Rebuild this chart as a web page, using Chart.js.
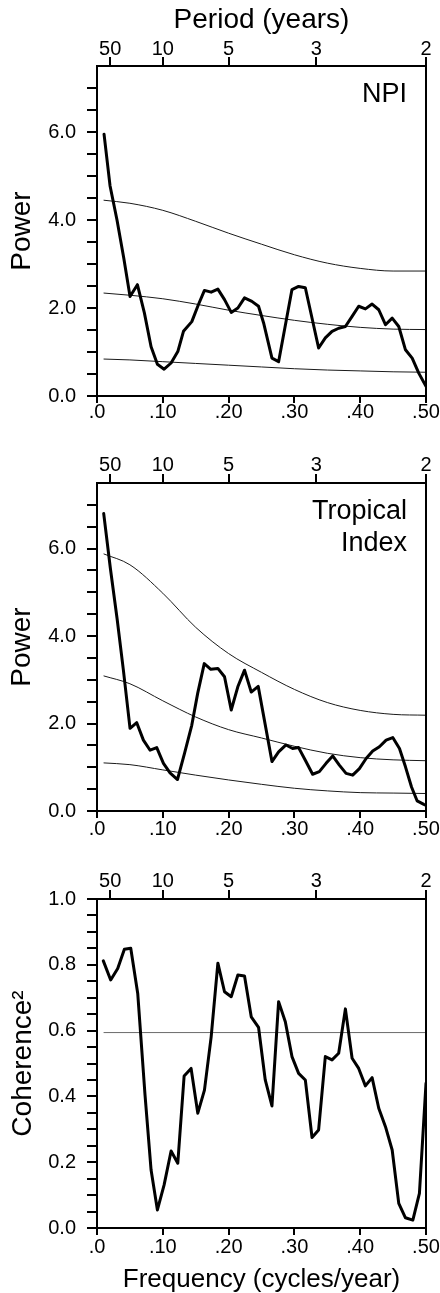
<!DOCTYPE html>
<html><head><meta charset="utf-8">
<script src="https://cdn.jsdelivr.net/npm/chart.js@4.4.1/dist/chart.umd.min.js"></script>
<style>
html,body{margin:0;padding:0;background:#fff;overflow:hidden;width:440px;height:1293px;}
canvas{position:absolute;left:0;}
</style></head><body>
<canvas id="c1" width="440" height="432" style="top:0px"></canvas>
<canvas id="c2" width="440" height="408" style="top:432px"></canvas>
<canvas id="c3" width="440" height="453" style="top:840px"></canvas>
<script>
// ---------- data ----------
const npiFreq  = [0.0107,0.0198,0.0304,0.0406,0.0502,0.0614,0.0720,0.0822,0.0918,0.1020,0.1126,0.1228,0.1314,0.1441,0.1542,0.1633,0.1735,0.1837,0.1938,0.2040,0.2141,0.2242,0.2354,0.2455,0.2532,0.2659,0.2760,0.2963,0.3064,0.3166,0.3368,0.3470,0.3572,0.3673,0.3775,0.3877,0.3977,0.4079,0.4181,0.4282,0.4384,0.4486,0.4586,0.4688,0.4790,0.4890,0.5000];
const npiPower = [5.95,4.78,4.00,3.14,2.26,2.53,1.89,1.12,0.72,0.61,0.75,1.01,1.47,1.69,2.08,2.40,2.36,2.43,2.19,1.90,2.00,2.23,2.15,2.04,1.66,0.86,0.78,2.42,2.49,2.46,1.09,1.32,1.47,1.54,1.58,1.81,2.04,1.98,2.09,1.96,1.62,1.77,1.58,1.05,0.86,0.52,0.22];

const tropFreq  = [0.0102,0.0203,0.0305,0.0401,0.0502,0.0604,0.0705,0.0807,0.0908,0.1010,0.1110,0.1223,0.1330,0.1440,0.1530,0.1630,0.1730,0.1837,0.1938,0.2040,0.2140,0.2242,0.2344,0.2450,0.2659,0.2760,0.2872,0.2973,0.3064,0.3166,0.3277,0.3379,0.3481,0.3582,0.3683,0.3785,0.3886,0.3988,0.4090,0.4190,0.4292,0.4394,0.4495,0.4597,0.4688,0.4780,0.4866,0.4967,0.5000];
const tropPower = [6.80,5.55,4.40,3.22,1.89,2.02,1.62,1.39,1.45,1.09,0.87,0.72,1.32,1.96,2.69,3.37,3.24,3.26,3.07,2.31,2.84,3.22,2.72,2.85,1.13,1.35,1.51,1.43,1.45,1.16,0.84,0.90,1.09,1.26,1.05,0.86,0.82,0.97,1.20,1.37,1.47,1.62,1.68,1.43,1.01,0.55,0.23,0.15,0.13];

const cohFreq = [0.0096,0.0208,0.0315,0.0416,0.0513,0.0619,0.0730,0.0822,0.0918,0.1020,0.1126,0.1228,0.1324,0.1430,0.1532,0.1633,0.1735,0.1837,0.1938,0.2040,0.2141,0.2242,0.2344,0.2455,0.2557,0.2659,0.2760,0.2862,0.2963,0.3064,0.3166,0.3268,0.3368,0.3470,0.3572,0.3673,0.3775,0.3877,0.3977,0.4079,0.4181,0.4282,0.4384,0.4486,0.4586,0.4688,0.4800,0.4900,0.5000];
const coherence = [0.812,0.754,0.789,0.847,0.850,0.713,0.404,0.176,0.055,0.131,0.234,0.197,0.462,0.485,0.349,0.419,0.581,0.805,0.718,0.703,0.769,0.766,0.642,0.610,0.450,0.371,0.688,0.627,0.521,0.470,0.450,0.275,0.298,0.521,0.511,0.531,0.666,0.516,0.485,0.432,0.457,0.364,0.308,0.237,0.075,0.031,0.024,0.105,0.440];

// significance / reference curves
const sigFreq     = [0.01,0.05,0.10,0.15,0.20,0.25,0.30,0.35,0.40,0.45,0.50];
const npiSigHigh  = [4.45,4.38,4.22,3.97,3.70,3.45,3.21,3.02,2.90,2.84,2.84];
const npiSigMid   = [2.34,2.29,2.21,2.09,1.95,1.83,1.72,1.63,1.56,1.52,1.51];
const npiSigLow   = [0.84,0.82,0.78,0.74,0.70,0.66,0.62,0.59,0.57,0.55,0.54];
const tropSigHigh = [5.88,5.63,4.98,4.20,3.60,3.17,2.78,2.48,2.30,2.21,2.19];
const tropSigMid  = [3.09,2.91,2.52,2.15,1.86,1.67,1.48,1.32,1.22,1.17,1.15];
const tropSigLow  = [1.10,1.06,0.94,0.82,0.71,0.61,0.52,0.46,0.42,0.41,0.40];
const cohSigFreq  = [0.01,0.50];
const cohSig      = [0.594,0.594];

// ticks
const freqTickValues = [0,0.1,0.2,0.3,0.4,0.5];
const freqTickLabels = ['.0','.10','.20','.30','.40','.50'];
const periodYears    = [50,10,5,3,2];
const powerTickValues = [0,0.5,1,1.5,2,2.5,3,3.5,4,4.5,5,5.5,6,6.5,7];
const powerLabeled    = [0,2,4,6];
const cohTickValues   = [0,0.05,0.1,0.15,0.2,0.25,0.3,0.35,0.4,0.45,0.5,0.55,0.6,0.65,0.7,0.75,0.8,0.85,0.9,0.95,1.0];
const cohLabeled      = [0,0.2,0.4,0.6,0.8,1.0];

// ---------- rendering ----------
const FONT = '"Liberation Sans", Arial, Helvetica, sans-serif';
Chart.defaults.font.family = FONT;
Chart.defaults.color = '#000';

const xy = (f, v) => f.map((x, i) => ({x: x, y: v[i]}));

const framePlugin = {
  id: 'frame',
  afterDraw(chart) {
    const {ctx, chartArea: a} = chart;
    ctx.save();
    ctx.strokeStyle = '#000';
    ctx.lineWidth = 2;
    ctx.strokeRect(a.left, a.top, a.right - a.left, a.bottom - a.top);
    ctx.restore();
  }
};
const labelPlugin = {
  id: 'panelLabel',
  afterDraw(chart, args, opts) {
    if (!opts.lines) return;
    const {ctx, chartArea: a} = chart;
    ctx.save();
    ctx.font = '27px ' + FONT;
    ctx.fillStyle = '#000';
    ctx.textAlign = 'right';
    ctx.textBaseline = 'alphabetic';
    opts.lines.forEach((t, i) => ctx.fillText(t, a.right - 19, a.top + 36 + i * 32));
    ctx.restore();
  }
};

function mainSet(f, v) {
  return {data: xy(f, v), borderColor: '#000', borderWidth: 3, pointRadius: 0,
          tension: 0, borderJoinStyle: 'round', borderCapStyle: 'round', xAxisID: 'x', yAxisID: 'y'};
}
function sigSet(f, v, color) {
  return {data: xy(f, v), borderColor: color || '#1a1a1a', borderWidth: 1, pointRadius: 0,
          cubicInterpolationMode: 'monotone', xAxisID: 'x', yAxisID: 'y'};
}
const near = (a, b) => Math.abs(a - b) < 1e-6;

function makePanel(id, p) {
  return new Chart(document.getElementById(id), {
    type: 'line',
    data: {datasets: p.datasets},
    options: {
      responsive: false, animation: false, devicePixelRatio: 1,
      layout: {padding: {left: 0, right: 14, top: 0, bottom: 0}},
      plugins: {legend: {display: false}, tooltip: {enabled: false}, panelLabel: {lines: p.label}},
      scales: {
        x: {
          type: 'linear', position: 'bottom', min: 0, max: 0.5,
          afterBuildTicks: s => { s.ticks = freqTickValues.map(v => ({value: v})); },
          ticks: {callback: (v, i) => freqTickLabels[i], font: {size: 20}, color: '#000',
                  padding: p.bottomPad, maxRotation: 0, autoSkip: false},
          grid: {drawOnChartArea: false, drawTicks: true, tickLength: 7, lineWidth: 2, color: '#000'},
          border: {display: false},
          title: p.xTitle ? {display: true, text: p.xTitle, font: {size: 26}, color: '#000',
                             padding: {top: 0, bottom: -2}} : {display: false},
          afterFit: s => { s.height = p.bottomH; s.paddingLeft = 0; s.paddingRight = 0; }
        },
        xTop: {
          type: 'linear', position: 'top', min: 0, max: 0.5,
          afterBuildTicks: s => { s.ticks = periodYears.map(y => ({value: 1 / y})); },
          ticks: {callback: (v, i) => String(periodYears[i]), font: {size: 20}, color: '#000',
                  padding: p.topPad, maxRotation: 0, autoSkip: false},
          grid: {drawOnChartArea: false, drawTicks: true, tickLength: 9, lineWidth: 2, color: '#000'},
          border: {display: false},
          title: p.topTitle ? {display: true, text: p.topTitle, font: {size: 28}, color: '#000',
                               padding: {top: 3, bottom: 0}} : {display: false},
          afterFit: s => { s.height = p.topH; s.paddingLeft = 0; s.paddingRight = 0; }
        },
        y: {
          type: 'linear', position: 'left', min: p.yMin, max: p.yMax,
          afterBuildTicks: s => { s.ticks = p.yTicks.map(v => ({value: v})); },
          ticks: {callback: v => p.yLabeled.some(l => near(l, v)) ? v.toFixed(1) : '',
                  font: {size: 20}, color: '#000', padding: 11, autoSkip: false},
          grid: {drawOnChartArea: false, drawTicks: true, tickLength: 10, lineWidth: 2, color: '#000'},
          border: {display: false},
          title: {display: true, text: p.yTitle, font: {size: 28}, color: '#000',
                  padding: {top: p.yTitlePad, bottom: 0}},
          afterFit: s => { s.width = 97; s.paddingTop = 0; s.paddingBottom = 0; }
        }
      }
    },
    plugins: [framePlugin, labelPlugin]
  });
}

makePanel('c1', {
  datasets: [mainSet(npiFreq, npiPower), sigSet(sigFreq, npiSigHigh), sigSet(sigFreq, npiSigMid), sigSet(sigFreq, npiSigLow)],
  label: ['NPI'], topTitle: 'Period (years)', xTitle: null,
  topH: 66, bottomH: 36, topPad: -4, bottomPad: -3,
  yMin: 0, yMax: 7.5, yTicks: powerTickValues, yLabeled: powerLabeled, yTitle: 'Power', yTitlePad: 5
});
makePanel('c2', {
  datasets: [mainSet(tropFreq, tropPower), sigSet(sigFreq, tropSigHigh), sigSet(sigFreq, tropSigMid), sigSet(sigFreq, tropSigLow)],
  label: ['Tropical', 'Index'], topTitle: null, xTitle: null,
  topH: 51, bottomH: 29, topPad: -3, bottomPad: -1,
  yMin: 0, yMax: 7.5, yTicks: powerTickValues, yLabeled: powerLabeled, yTitle: 'Power', yTitlePad: 5
});
makePanel('c3', {
  datasets: [mainSet(cohFreq, coherence), sigSet(cohSigFreq, cohSig, '#6a6a6a')],
  label: null, topTitle: null, xTitle: 'Frequency (cycles/year)',
  topH: 59, bottomH: 65, topPad: -3, bottomPad: 0,
  yMin: 0, yMax: 1, yTicks: cohTickValues, yLabeled: cohLabeled, yTitle: 'Coherence\u00B2', yTitlePad: 6
});
</script>
</body></html>
